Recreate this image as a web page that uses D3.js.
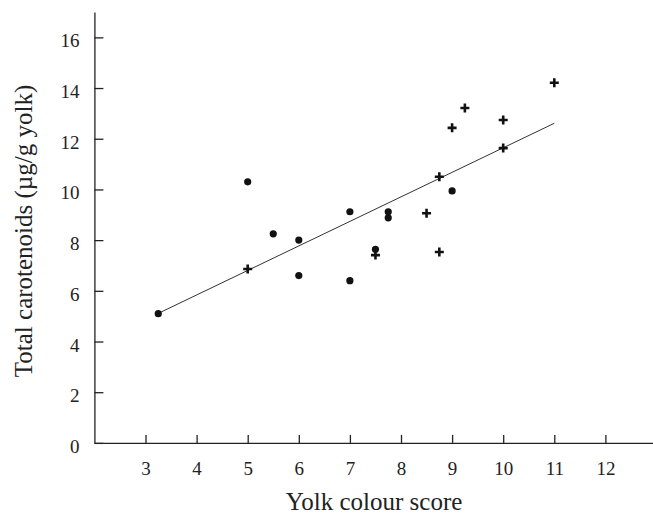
<!DOCTYPE html>
<html>
<head>
<meta charset="utf-8">
<script src="https://cdn.jsdelivr.net/npm/d3@7"></script>
<style>
  body { margin: 0; background: #fff; }
  svg { display: block; }
  .axis path, .axis line { stroke: #222; stroke-width: 1.3; }
  .label { fill: #222; font-size: 25px; font-family: "Liberation Serif", "Times New Roman", serif; }
</style>
</head>
<body>
<script>
// circles
const dotX = [3.25, 5, 5.5, 6, 6, 7, 7, 7.5, 7.75, 7.75, 9];
const dotY = [5.1, 10.3, 8.25, 8.0, 6.6, 9.12, 6.4, 7.64, 9.12, 8.88, 9.94];

// crosses
const plusX = [5, 7.5, 8.5, 8.75, 8.75, 9, 9.25, 10, 10, 11];
const plusY = [6.86, 7.41, 9.06, 10.5, 7.53, 12.43, 13.21, 12.74, 11.63, 14.21];

// fitted line end points
const fitX = [3.25, 11];
const fitY = [5.11, 12.61];

const xTicks = [3, 4, 5, 6, 7, 8, 9, 10, 11, 12];
const yTicks = [0, 2, 4, 6, 8, 10, 12, 14, 16];

const width = 653;
const height = 516;

const x = d3.scaleLinear()
  .domain([2, 13])
  .range([94.4, 656.5]);

const y = d3.scaleLinear()
  .domain([0, 17])
  .range([442.9, 12]);

const svg = d3.select('body')
  .append('svg')
  .attr('width', width)
  .attr('height', height);

const serif = g => g
  .attr('font-family', null)
  .attr('font-size', null)
  .call(g => g.selectAll('.tick text')
    .attr('fill', '#222')
    .style('font-family', '"Liberation Serif", serif')
    .style('font-size', '19px'));

const xAxis = g => g
  .attr('class', 'axis')
  .attr('transform', `translate(0,${y(0)})`)
  .call(d3.axisBottom(x).tickValues(xTicks).tickSizeInner(-8).tickSizeOuter(0).tickPadding(19))
  .call(serif);

const yAxis = g => g
  .attr('class', 'axis')
  .attr('transform', `translate(${x(2)},0)`)
  .call(d3.axisLeft(y).tickValues(yTicks).tickSizeInner(-9).tickSizeOuter(0).tickPadding(15))
  .call(serif)
  .call(g => g.selectAll('.tick text').attr('dy', '0.5em'));

svg.append('g').call(xAxis);
svg.append('g').call(yAxis);

const fit = fitX.map((v, i) => [v, fitY[i]]);
svg.append('path')
  .datum(fit)
  .attr('fill', 'none')
  .attr('stroke', '#333')
  .attr('stroke-width', 1)
  .attr('d', d3.line().x(d => x(d[0])).y(d => y(d[1])));

svg.append('g')
  .selectAll('circle')
  .data(dotX.map((v, i) => [v, dotY[i]]))
  .join('circle')
  .attr('cx', d => x(d[0]))
  .attr('cy', d => y(d[1]))
  .attr('r', 3.6)
  .attr('fill', '#111');

const s = 4.5;
svg.append('g')
  .selectAll('path')
  .data(plusX.map((v, i) => [v, plusY[i]]))
  .join('path')
  .attr('transform', d => `translate(${x(d[0])},${y(d[1])})`)
  .attr('d', `M${-s},0H${s}M0,${-s}V${s}`)
  .attr('stroke', '#111')
  .attr('stroke-width', 2.6)
  .attr('fill', 'none');

svg.append('text')
  .attr('class', 'label')
  .attr('x', 374)
  .attr('y', 510)
  .attr('text-anchor', 'middle')
  .text('Yolk colour score');

svg.append('text')
  .attr('class', 'label')
  .attr('transform', 'translate(32,231) rotate(-90)')
  .attr('text-anchor', 'middle')
  .text('Total carotenoids (µg/g yolk)');
</script>
</body>
</html>
